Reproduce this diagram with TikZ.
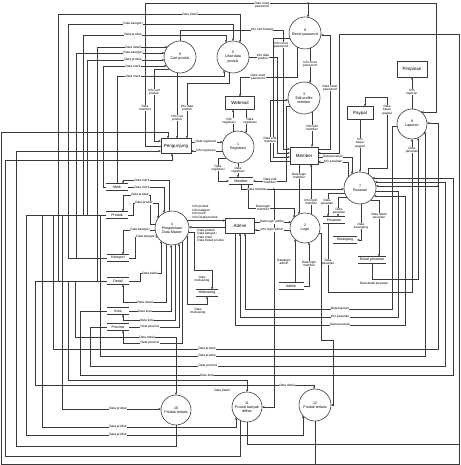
\documentclass[tikz,border=0pt]{standalone}
\usepackage{fontspec}
\setmainfont{Liberation Sans}
\usetikzlibrary{arrows.meta,calc}
\definecolor{ink}{HTML}{3A3A3A}
\begin{document}
\begin{tikzpicture}[x=1pt,y=-1pt,
  declare function={hw(\q,\w)=sqrt((\q)*(\q)-(\w)*(\w));},
  arr/.style={draw=ink,line width=0.55pt,-{Stealth[length=2.7pt,width=2.2pt]}},
  ln/.style={draw=ink,line width=0.55pt},
  lab/.style={fill=white,inner sep=0.25pt,font=\fontsize{3.2}{3.5}\selectfont,align=center},
  labn/.style={inner sep=0.25pt,font=\fontsize{3.2}{3.5}\selectfont,align=center},
  proc/.style={circle,draw=ink,line width=0.6pt,minimum size=#1,inner sep=0pt,outer sep=0pt,align=center,font=\fontsize{3.6}{4.2}\selectfont},
  ent/.style 2 args={rectangle,draw=ink,line width=0.6pt,minimum width=#1,minimum height=#2,inner sep=0pt,outer sep=0pt,font=\fontsize{4.5}{5}\selectfont},
  store/.style={rectangle,minimum width=#1,minimum height=7,inner sep=0pt,outer sep=0pt,font=\fontsize{3.6}{4}\selectfont}
]
\useasboundingbox (0,0) rectangle (460,465);

% ---------- processes
\node[proc=32] (p6) at (180,57) {6\\Cart produk};
\node[proc=32] (p5) at (233,57) {5\\Lihat data\\produk};
\node[proc=32] (p9) at (305,33) {9\\Reset password};
\node[proc=32] (p3) at (304,98) {3\\Edit profile\\member};
\node[proc=32] (p1) at (238,147) {1\\Registrasi};
\node[proc=30] (p8) at (412,124) {8\\Laporan};
\node[proc=32] (p7) at (360,188) {7\\Pesanan};
\node[proc=34] (p4) at (172,228) {4\\Pengelolaan\\Data Master};
\node[proc=30] (p2) at (305,228) {2\\Login};
\node[proc=30] (p10) at (176,410) {10\\Produk terlaris};
\node[proc=30] (p11) at (247,407) {11\\Produk banyak\\dilihat};
\node[proc=32] (p12) at (315,405) {12\\Produk terlaris};

% ---------- external entities
\node[ent={29}{13}] (webmail) at (240,103) {Webmail};
\node[ent={30}{15}] (pengunjung) at (176,146) {Pengunjung};
\node[ent={28}{17}] (member) at (304,155.5) {Member};
\node[ent={26}{13}] (paypal) at (360,113) {Paypal};
\node[ent={30}{16}] (pimpinan) at (412,69) {Pimpinan};
\node[ent={29}{15}] (admin) at (240,226) {Admin};

% ---------- data stores
\node[store=24] (smember) at (241,181) {Member};
\node[store=22] (smerk) at (117,187) {Merk};
\node[store=22] (sproduk) at (117,215) {Produk};
\node[store=22] (skat) at (118,258) {Kategori};
\node[store=22] (sdet) at (118,281) {Detail};
\node[store=22] (skota) at (118,311) {Kota};
\node[store=22] (sprov) at (118,327) {Provinsi};
\node[store=22] (smeb) at (207,293) {Mebusong};
\node[store=25] (sadmin) at (291,286) {Admin};
\node[store=22] (spes) at (334,220) {Pesanan};
\node[store=24] (sker) at (345,240) {Keranjang};
\node[store=28] (sdetp) at (372,260) {Detail pesanan};
\foreach \s in {smember,smerk,sproduk,skat,sdet,skota,sprov,smeb,sadmin,spes,sker,sdetp}
  \draw[ln] (\s.north west) -- (\s.north east) (\s.south west) -- (\s.south east);

% ---------- master data into process 5 (over the top)
\draw[arr] (sdet.west) -- (58,281) -- (58,14) -- (240,14) -- ($(p5.center)+(7,{-hw(16,7)})$);
\draw[arr] (skat.west) -- (68,258) -- (68,24) -- (233,24) -- ($(p5.center)+(0,-16)$);
\draw[arr] (sproduk.west) -- (83,215) -- (83,35) -- (226,35) -- ($(p5.center)+(-7,{-hw(16,-7)})$);
% master data into process 6
\draw[arr] (sdet.west) -- (97,281) -- (97,47) -- ($(p6.center)+({-hw(16,-10)},-10)$);
\draw[arr] (skat.west) -- (76,258) -- (76,53) -- ($(p6.center)+({-hw(16,-4)},-4)$);
\draw[arr] (sproduk.west) -- (87,215) -- (87,60) -- ($(p6.center)+({-hw(16,3)},3)$);
\draw[arr] (smerk.west) -- (103,187) -- (103,66) -- ($(p6.center)+({-hw(16,9)},9)$);
\draw[arr] (smerk.north) -- (117,76) -- (224,76) -- ($(p5.center)+(-9,{hw(16,-9)})$);

% ---------- processes 5 and 6 towards Pengunjung
\draw[arr] ($(p6.center)+(-3,{hw(16,-3)})$) -- (pengunjung.north -| 177,0);
\draw[arr] ($(p5.center)+(-4,{hw(16,-4)})$) -- (229,83) -- (187,83) -- (pengunjung.north -| 187,0);
\draw[arr] ($(p6.center)+({-hw(16,12)},12)$) -- (154,69) -- (154,141) -- (pengunjung.west |- 0,141);

% ---------- Pengunjung along the top line to processes 9 and 8
\draw[arr] (pengunjung.west |- 0,146) -- (145,146) -- (145,3) -- (436,3) -- (436,112) -- ($(p8.center)+({hw(15,-12)},-12)$);
\coordinate (jt) at (308,3);
\draw[arr] (jt) -- ($(p9.center)+(3,{-hw(16,3)})$);

% ---------- flows ending at Member
\draw[arr] ($(p6.center)+(0,-16)$) -- (180,30) -- (283,30) -- (283,149) -- (member.west |- 0,149);
\draw[arr] ($(p5.center)+(16,0)$) -- (277,57) -- (277,153) -- (member.west |- 0,153);
\draw[arr] ($(p9.center)+({-hw(16,5)},5)$) -- (273,38) -- (273,157) -- (member.west |- 0,157);
\draw[arr] (member.west |- 0,161) -- (270,161) -- (270,100) -- ($(p3.center)+({-hw(16,2)},2)$);

% ---------- reset password and edit profile
\draw[arr] (member.east |- 0,149) -- (330,149) -- (330,35) -- ($(p9.center)+({hw(16,2)},2)$);
\draw[arr] ($(p9.center)+(-8,{hw(16,-8)})$) -- (297,77) -- (240,77) -- (webmail.north);
\draw[arr] ($(p9.center)+(5,{hw(16,5)})$) -- ($(p3.center)+(6,{-hw(16,6)})$);
\draw[arr] ($(p3.center)+(8,{hw(16,8)})$) -- (member.north -| 312,0);
\draw[arr] ($(p3.center)+({-hw(16,8)},8)$) -- (286,106) -- (286,181) -- (smember.east);

% ---------- registration
\draw[arr] ($(p1.center)+(-5,{-hw(16,-5)})$) -- (webmail.south -| 233,0);
\draw[arr] (webmail.south -| 246,0) -- ($(p1.center)+(8,{-hw(16,8)})$);
\draw[arr] (pengunjung.east |- 0,142) -- ($(p1.center)+({-hw(16,-5)},-5)$);
\draw[arr] ($(p1.center)+({-hw(16,4)},4)$) -- (pengunjung.east |- 0,151);
\draw[arr] ($(p1.center)+(0,16)$) -- (smember.north -| 238,0);
\draw[arr] ($(p1.center)+({-hw(16,11)},11)$) -- (218,158) -- (218,181) -- (smember.west);

% ---------- member store outwards
\draw[arr] (smember.south) -- (241,189) -- ($(p7.center)+({-hw(16,1)},1)$);
\coordinate (jm) at (274,189);
\draw[arr] (jm) -- (274,407) -- ($(p11.center)+(15,0)$);
\draw[arr] (smember.south -| 248,0) -- (248,208) -- (294,208) -- ($(p2.center)+(-11,{-hw(15,-11)})$);

% ---------- login
\draw[arr] (member.south -| 299,0) -- ($(p2.center)+(-6,{-hw(15,-6)})$);
\draw[arr] ($(p2.center)+(6,{-hw(15,6)})$) -- (member.south -| 311,0);
\draw[arr] (admin.east |- 0,222) -- ($(p2.center)+({-hw(15,-6)},-6)$);
\draw[arr] ($(p2.center)+({-hw(15,2)},2)$) -- (admin.east |- 0,230);
\draw[arr] (sadmin.north -| 295,0) -- ($(p2.center)+(-10,{hw(15,-10)})$);
\draw[arr] (sadmin.east) -- (309,286) -- ($(p2.center)+(4,{hw(15,4)})$);
\draw[arr] ($(p2.center)+({hw(15,5)},5)$) -- (321,233) -- (321,340) -- (333,340) -- (333,405) -- ($(p12.center)+(16,0)$);

% ---------- master data management
\draw[arr] ($(p4.center)+({hw(17,-7.5)},-7.5)$) -- (admin.west |- 0,220.5);
\draw[arr] (admin.west |- 0,227) -- ($(p4.center)+({hw(17,-1)},-1)$);
\draw[arr] ($(p4.center)+(-3,{-hw(17,-3)})$) -- (169,180) -- (123,180) -- (smerk.north -| 123,0);
\draw[arr] (smerk.east) -- (164,187) -- ($(p4.center)+(-8,{-hw(17,-8)})$);
\draw[arr] ($(p4.center)+({-hw(17,-4)},-4)$) -- (150,224) -- (150,195) -- (123,195) -- (sproduk.north -| 123,0);
\draw[arr] (sproduk.east) -- (133,215) -- (133,203) -- (158,203) -- ($(p4.center)+(-14,{-hw(17,-14)})$);
\draw[arr] ($(p4.center)+({-hw(17,2)},2)$) -- (123,230) -- (skat.north -| 123,0);
\draw[arr] (skat.east) -- (135,258) -- (135,237) -- ($(p4.center)+({-hw(17,9)},9)$);
\draw[arr] (sdet.east) -- (140,281) -- (140,273) -- (161,273) -- ($(p4.center)+(-11,{hw(17,-11)})$);
\draw[arr] ($(p4.center)+(-6,{hw(17,-6)})$) -- (166,302) -- (123,302) -- (sdet.south -| 123,0);
\draw[arr] (skota.east) -- (171,311) -- ($(p4.center)+(-1,{hw(17,-1)})$);
\draw[arr] ($(p4.center)+(3,{hw(17,3)})$) -- (175,320) -- (123,320) -- (skota.south -| 123,0);
\draw[arr] (sprov.east) -- (179,327) -- ($(p4.center)+(7,{hw(17,7)})$);
\draw[arr] ($(p4.center)+(10,{hw(17,10)})$) -- (182,343) -- (123,343) -- (sprov.south -| 123,0);
\draw[arr] ($(p4.center)+({hw(17,4)},4)$) -- (194,232) -- (194,270) -- (212,270) -- (smeb.north -| 212,0);
\draw[arr] ($(p4.center)+(15,{hw(17,15)})$) -- (187,304) -- (207,304) -- (smeb.south);

% ---------- orders
\draw[arr] (member.east |- 0,157) -- (352,157) -- ($(p7.center)+(-8,{-hw(16,-8)})$);
\draw[arr] ($(p7.center)+(-12,{-hw(16,-12)})$) -- (348,162) -- (member.east |- 0,162);
\draw[arr] (paypal.south) -- ($(p7.center)+(0,-16)$);
\draw[arr] ($(p7.center)+(8,{-hw(16,8)})$) -- (368,168) -- (387,168) -- (387,97) -- (365,97) -- (paypal.north -| 365,0);
\draw[arr] ($(p7.center)+({-hw(16,5)},5)$) -- (328,193) -- (spes.north -| 328,0);
\draw[arr] ($(p7.center)+({-hw(16,9)},9)$) -- (338,197) -- (spes.north -| 338,0);
\draw[arr] (spes.south -| 328,0) -- (328,292) -- (412,292) -- ($(p8.center)+(0,15)$);
\draw[arr] ($(p7.center)+(1,{hw(16,1)})$) -- (361,240) -- (sker.east);
\draw[arr] ($(p7.center)+({hw(16,12)},12)$) -- (379,200) -- (sdetp.north -| 379,0);
\draw[arr] (sdetp.south) -- (372,279) -- (418,279) -- ($(p8.center)+(6,{hw(15,6)})$);
\draw[arr] ($(p8.center)+({-hw(15,2)},2)$) -- (392,126) -- (392,309) -- (245,309) -- (admin.south -| 245,0);
\draw[arr] ($(p7.center)+({hw(16,3)},3)$) -- (398,191) -- (398,317) -- (240,317) -- (admin.south -| 240,0);
\draw[arr] (admin.south -| 235,0) -- (235,325) -- (405,325) -- (405,196) -- ($(p7.center)+({hw(16,8)},8)$);
\draw[arr] ($(p8.center)+(0,-15)$) -- (pimpinan.south);

% ---------- buses along the bottom and right side
\draw[arr] (sproduk.west) -- (53,215) -- (53,349) -- (438,349) -- (438,123) -- ($(p8.center)+({hw(15,-1)},-1)$);
\coordinate (jp) at (438,186);
\draw[arr] (jp) -- ($(p7.center)+({hw(16,-2)},-2)$);
\draw[arr] (sproduk.west) -- (100,215) -- (100,356) -- (425,356) -- ($(p8.center)+(13,{hw(15,13)})$);
\draw[arr] (sprov.west) -- (90,327) -- (90,366) -- (445,366) -- (445,182) -- ($(p7.center)+({hw(16,-6)},-6)$);
\draw[arr] (skota.west) -- (80,311) -- (80,375) -- (453,375) -- (453,178) -- ($(p7.center)+({hw(16,-10)},-10)$);

% ---------- inputs of processes 10, 11, 12
\draw[arr] (sdet.west) -- (75,281) -- (75,337) -- (176,337) -- ($(p10.center)+(0,-15)$);
\draw[arr] (sdet.west) -- (68,281) -- (68,380) -- (247,380) -- ($(p11.center)+(0,-15)$);
\draw[arr] (sdet.west) -- (35,281) -- (35,385) -- (314,385) -- ($(p12.center)+(-1,{-hw(16,-1)})$);
\draw[arr] (sproduk.west) -- (62,215) -- (62,409) -- ($(p10.center)+({-hw(15,-1)},-1)$);
\draw[arr] (sproduk.west) -- (42,215) -- (42,427) -- (236,427) -- ($(p11.center)+(-11,{hw(15,-11)})$);
\draw[arr] (sproduk.west) -- (26,215) -- (26,435) -- (303,435) -- ($(p12.center)+(-12,{hw(16,-12)})$);

% ---------- outputs of processes 10, 11, 12
\draw[arr] ($(p10.center)+(0,15)$) -- (176,446) -- (16,446) -- (16,151) -- (pengunjung.west |- 0,151);
\draw[arr] ($(p11.center)+(0,15)$) -- (247,444) -- (459,444) -- (459,34) -- (339,34) -- (339,153) -- (member.east |- 0,153);
\draw[arr] ($(p11.center)+(-7,{hw(15,-7)})$) -- (240,456) -- (5,456) -- (5,160) -- (172,160) -- (pengunjung.south -| 172,0);
\draw[arr] ($(p12.center)+(0,16)$) -- (315,464) -- (1.5,464) -- (1.5,132) -- (168,132) -- (pengunjung.north -| 168,0);
\coordinate (jb) at (315,464);
\draw[ln] (jb) -- (459,464) -- (459,444);

\foreach \j in {jt,jm,jp} \fill[ink] (\j) circle (0.8);

% ---------- flow labels
\node[lab] at (190,14) {Data detail};
\node[lab] at (133,24) {Data kategori};
\node[lab] at (133,35) {Data produk};
\node[lab] at (133,47) {Data detail};
\node[lab] at (133,53) {Data kategori};
\node[lab] at (133,60) {Data produk};
\node[lab] at (133,66) {Data merk};
\node[lab] at (133,76) {Data merk};
\node[lab] at (177,118) {Info cart\\produk};
\node[lab] at (187,108) {Info data\\produk};
\node[lab] at (154,92) {Info cart\\produk};
\node[lab] at (145,108) {Data\\member};
\node[lab] at (262,5) {Data reset\\password};
\node[lab] at (262,30) {Info cart barang};
\node[lab] at (263,57) {Info data\\produk};
\node[lab] at (281,45) {Info reset\\password};
\node[lab] at (258,77) {Data reset\\password};
\node[lab] at (310,64) {Info reset\\password};
\node[lab] at (330,88) {Data reset\\password};
\node[lab] at (270,140) {Data edit\\member};
\node[lab] at (312,128) {Info edit\\member};
\node[lab] at (270,181) {Data edit\\member};
\node[lab] at (229,121) {Info\\registrasi};
\node[lab] at (250,121) {Data\\registrasi};
\node[lab] at (206,142) {Data registrasi};
\node[lab] at (206,151) {Info registrasi};
\node[lab] at (238,170) {Data\\registrasi};
\node[lab] at (218,168) {Data\\registrasi};
\node[lab] at (257,189) {Data member};
\node[lab] at (263,208) {Data login\\member};
\node[lab] at (299,176) {Data login\\member};
\node[lab] at (311,202) {Info login\\member};
\node[lab] at (272,222) {Data login admin};
\node[lab] at (272,230) {Info login admin};
\node[labn] at (284,262) {Datalogin\\admin};
\node[lab] at (309,264) {Data login\\member};
\node[labn,anchor=south west,align=left] at (192,219.5) {Info produk\\Info kategori\\Info merk\\Info Detail produk};
\node[labn,anchor=north west,align=left] at (197,228.5) {Data produk\\Data kategori\\Data merk\\Data Detail produk};
\node[lab] at (142,180) {Data merk};
\node[lab] at (142,187) {Data merk};
\node[lab] at (140,195) {Data produk};
\node[lab] at (144,203) {Data produk};
\node[lab] at (140,230) {Data kategori};
\node[lab] at (146,237) {Data kategori};
\node[lab] at (150,273) {Data detail};
\node[lab] at (145,302) {Data detail};
\node[lab] at (145,311) {Data kota};
\node[lab] at (147,320) {Data kota};
\node[lab] at (150,327) {Data provinsi};
\node[lab] at (150,343) {Data provinsi};
\node[labn] at (202,279) {Data\\mebusong};
\node[labn] at (198,311) {Data\\mebusong};
\node[lab] at (147,337) {Data detail};
\node[lab] at (207,349) {Data produk};
\node[lab] at (207,356) {Data produk};
\node[lab] at (208,366) {Data provinsi};
\node[lab] at (207,375) {Data kota};
\node[labn] at (222,390) {Data detail};
\node[lab] at (287,385) {Data detail};
\node[lab] at (118,409) {Data produk};
\node[lab] at (118,427) {Data produk};
\node[lab] at (118,435) {Data produk};
\node[lab] at (333,157) {Data pesanan};
\node[lab] at (333,162) {Info pesanan};
\node[lab] at (360,143) {Info\\bayar\\paypal};
\node[lab] at (387,110) {Data\\bayar\\paypal};
\node[lab] at (327,202) {Data\\pesanan};
\node[lab] at (339,211) {Data\\pesanan};
\node[lab] at (361,226) {Data\\keranjang};
\node[lab] at (379,216) {Data detail\\pesanan};
\node[labn] at (374,283.5) {Data detail pesanan};
\node[lab] at (328,262) {Data\\pesanan};
\node[lab] at (412,150) {Data\\pesanan};
\node[lab] at (340,309) {Data laporan};
\node[lab] at (340,317) {Info pesanan};
\node[lab] at (340,325) {Data pesanan};
\node[lab] at (412,92) {Info\\laporan};
\end{tikzpicture}
\end{document}
